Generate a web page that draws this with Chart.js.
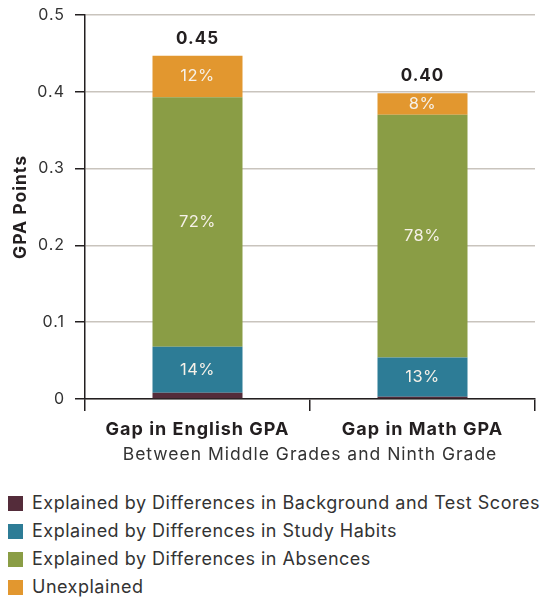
<!DOCTYPE html>
<html>
<head>
<meta charset="utf-8">
<script src="https://cdn.jsdelivr.net/npm/chart.js@4.4.1/dist/chart.umd.min.js"></script>
<style>
    body { margin: 0; background: #fff; font-family: Inter, sans-serif; }
    #wrap { position: relative; width: 552px; height: 470px; }
    #legend { margin-top: 19px; color: #333; font-size: 18px; letter-spacing: 0.5px; }
    .item { height: 28px; line-height: 28px; display: flex; align-items: center; }
    .box { width: 15px; height: 15px; margin-left: 8px; margin-right: 9px; }
</style>
</head>
<body>
<div id="wrap"><canvas id="chart"></canvas></div>
<div id="legend"></div>
<script>
const categories = ['Gap in English GPA', 'Gap in Math GPA'];
const background = [0.008, 0.003];
const studyHabits = [0.060, 0.051];
const absences = [0.325, 0.316];
const unexplained = [0.054, 0.028];
const totalLabels = ['0.45', '0.40'];
const pctStudy = ['14%', '13%'];
const pctAbsences = ['72%', '78%'];
const pctUnexplained = ['12%', '8%'];
const yTicks = [0, 0.1, 0.2, 0.3, 0.4, 0.5];

const seriesNames = [
    'Explained by Differences in Background and Test Scores',
    'Explained by Differences in Study Habits',
    'Explained by Differences in Absences',
    'Unexplained'
];
const colors = ['#542c3a', '#2d7c96', '#8a9d45', '#e2972f'];
const FONT = 'Inter';

const pctLabels = [null, pctStudy, pctAbsences, pctUnexplained];

// wider text, closer to the original typeface
const spacingPlugin = {
    id: 'spacing',
    beforeDraw(chart) {
        chart.ctx.letterSpacing = '1px';
    }
};

const labelPlugin = {
    id: 'barLabels',
    afterDatasetsDraw(chart) {
        const ctx = chart.ctx;
        ctx.save();
        ctx.textAlign = 'center';
        ctx.textBaseline = 'middle';
        pctLabels.forEach((arr, di) => {
            if (!arr) return;
            chart.getDatasetMeta(di).data.forEach((el, i) => {
                ctx.fillStyle = '#f6f1e8';
                ctx.letterSpacing = '0.5px';
                ctx.font = '16.5px ' + FONT;
                ctx.fillText(arr[i], el.x, (el.y + el.base) / 2);
            });
        });
        chart.getDatasetMeta(3).data.forEach((el, i) => {
            ctx.fillStyle = '#231f20';
            ctx.letterSpacing = '1px';
            ctx.font = 'bold 17px ' + FONT;
            ctx.fillText(totalLabels[i], el.x, el.y - 17);
        });
        ctx.restore();
    }
};

const datasets = [background, studyHabits, absences, unexplained].map((d, i) => ({
    label: seriesNames[i],
    data: d,
    backgroundColor: colors[i],
    barPercentage: 0.4,
    categoryPercentage: 1
}));

new Chart(document.getElementById('chart'), {
    type: 'bar',
    data: { labels: categories, datasets: datasets },
    plugins: [spacingPlugin, labelPlugin],
    options: {
        responsive: true,
        maintainAspectRatio: false,
        animation: false,
        layout: { padding: { top: 15, right: 17, left: 0, bottom: 0 } },
        plugins: { legend: { display: false }, tooltip: { enabled: false } },
        scales: {
            x: {
                stacked: true,
                afterFit: s => { s.height = 71; s.paddingLeft = 0; s.paddingRight = 0; },
                grid: { drawOnChartArea: false, tickLength: 12, color: '#231f20', lineWidth: 1.5 },
                border: { color: '#231f20', width: 1.5 },
                ticks: { color: '#231f20', padding: 8, font: { family: FONT, size: 18, weight: 'bold' } },
                title: {
                    display: true,
                    text: 'Between Middle Grades and Ninth Grade',
                    color: '#333',
                    font: { family: FONT, size: 17.5 },
                    padding: { top: 4, bottom: 5 }
                }
            },
            y: {
                stacked: true,
                min: 0,
                max: 0.5,
                afterFit: s => { s.width = 85; s.paddingTop = 0; s.paddingBottom = 0; },
                afterBuildTicks: s => { s.ticks = yTicks.map(v => ({ value: v })); },
                grid: { color: '#c9c4bd', lineWidth: 1.5, tickLength: 10, tickColor: '#231f20' },
                border: { color: '#231f20', width: 1.5 },
                ticks: {
                    color: '#333',
                    padding: 10,
                    font: { family: FONT, size: 16 },
                    callback: v => v === 0 ? '0' : v.toFixed(1)
                },
                title: {
                    display: true,
                    text: 'GPA Points',
                    color: '#231f20',
                    font: { family: FONT, size: 17.5, weight: 'bold' },
                    padding: { top: 10, bottom: 0 }
                }
            }
        }
    }
});

const legendEl = document.getElementById('legend');
seriesNames.forEach((name, i) => {
    const row = document.createElement('div');
    row.className = 'item';
    row.innerHTML = '<span class="box" style="background:' + colors[i] + '"></span><span>' + name + '</span>';
    legendEl.appendChild(row);
});
</script>
</body>
</html>
